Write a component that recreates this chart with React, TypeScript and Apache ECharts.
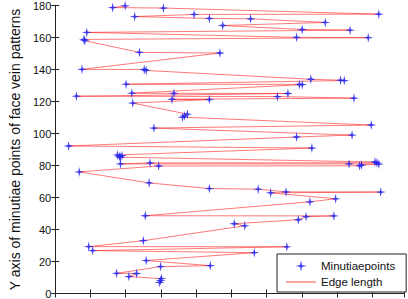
import React, { useEffect, useRef } from 'react';
import * as echarts from 'echarts';

// Minutiae points, listed in the order the edges connect them
const xValues = [
  39.7, 32.6, 61.4, 183.7, 78.8, 45.1, 87.5, 110.9, 153.3, 95.1,
  140.2, 167.4, 17.9, 137.0, 177.7, 16.3, 16.8, 47.8, 93.5, 15.2,
  50.5, 51.6, 145.1, 162.0, 164.1, 40.2, 138.6, 140.2, 43.5, 67.4,
  132.1, 12.0, 126.1, 169.6, 66.3, 87.5, 44.0, 75.0, 73.4, 72.3,
  179.4, 56.0, 168.5, 137.0, 7.6, 145.7, 35.3, 37.9, 36.4, 37.0,
  181.5, 182.6, 53.8, 37.0, 166.8, 183.7, 173.9, 172.8, 58.7, 13.6,
  53.3, 87.5, 115.2, 131.0, 184.8, 122.3, 159.2, 144.6, 51.1, 158.2,
  142.4, 138.0, 101.6, 107.6, 50.0, 19.0, 131.5, 21.2, 113.0, 51.6,
  88.0, 59.8, 34.8, 46.2, 41.8, 60.3, 59.8, 59.2,
];
const yValues = [
  179.8, 178.7, 178.4, 174.6, 174.4, 173.1, 171.9, 171.7, 169.4, 167.5,
  165.0, 164.6, 163.2, 160.1, 159.9, 158.8, 158.0, 150.7, 150.3, 140.1,
  140.0, 139.4, 133.9, 133.3, 133.1, 130.8, 130.7, 130.5, 125.2, 125.1,
  125.0, 123.3, 123.1, 122.1, 121.4, 121.2, 119.0, 112.1, 111.0, 110.2,
  105.3, 103.4, 99.0, 97.8, 92.2, 90.9, 86.6, 86.2, 85.6, 85.2,
  82.2, 81.7, 81.6, 81.0, 81.0, 80.9, 80.3, 79.8, 79.7, 76.0,
  69.1, 65.6, 65.2, 63.5, 63.4, 62.9, 59.2, 57.3, 48.6, 48.5,
  48.0, 46.1, 43.6, 42.3, 33.0, 29.3, 29.2, 26.8, 25.5, 20.6,
  17.4, 16.8, 12.6, 12.5, 10.6, 9.3, 8.1, 6.9,
];

const seriesNames = ['Minutiaepoints', 'Edge length'];
const yLabel = 'Y axis of minutiae points of face vein patterns';
const yMin = 0;
const yMax = 180;
const yStep = 20;
const xMin = 0;
const xMax = 198;
const xStep = 20;

const FONT = '"Liberation Sans", Arial, sans-serif';
const STAR = 'path://M5,0 L5.9,4.1 L10,5 L5.9,5.9 L5,10 L4.1,5.9 L0,5 L4.1,4.1 Z';
const LINE_ICON = 'path://M0,0 L30,0 L30,1 L0,1 Z';

export default function App() {
  const ref = useRef<HTMLDivElement>(null);

  useEffect(() => {
    if (!ref.current) return;
    const chart = echarts.init(ref.current, undefined, { renderer: 'svg' });
    const points = xValues.map((x, i) => [x, yValues[i]]);
    const axisLine = { show: true, lineStyle: { color: '#222', width: 1 } };
    const tick = { show: true, inside: true, length: 4, lineStyle: { color: '#222', width: 1 } };

    chart.setOption({
      animation: false,
      backgroundColor: '#fff',
      grid: { left: 39, right: 4, top: 5, bottom: 5, containLabel: false },
      xAxis: [
        {
          type: 'value', min: xMin, max: xMax, interval: xStep, position: 'bottom',
          axisLine, axisTick: tick, axisLabel: { show: false }, splitLine: { show: false },
        },
        {
          type: 'value', min: xMin, max: xMax, interval: xStep, position: 'top',
          axisLine, axisTick: tick, axisLabel: { show: false }, splitLine: { show: false },
        },
      ],
      yAxis: [
        {
          type: 'value', min: yMin, max: yMax, interval: yStep, position: 'left',
          axisLine, axisTick: tick, splitLine: { show: false },
          axisLabel: { color: '#111', fontSize: 11, fontFamily: FONT, margin: 4 },
          name: yLabel, nameLocation: 'middle', nameGap: 24,
          nameTextStyle: { color: '#111', fontSize: 14, fontFamily: FONT },
        },
        {
          type: 'value', min: yMin, max: yMax, interval: yStep, position: 'right',
          axisLine, axisTick: tick, axisLabel: { show: false }, splitLine: { show: false },
        },
      ],
      legend: {
        orient: 'vertical', left: 277, top: 254,
        padding: [6, 11, 4, 9], itemGap: 4, itemWidth: 30, itemHeight: 11,
        borderColor: '#222', borderWidth: 1, backgroundColor: '#fff',
        textStyle: { color: '#111', fontSize: 11.5, fontFamily: FONT },
        data: [
          { name: seriesNames[0], icon: STAR },
          { name: seriesNames[1], icon: LINE_ICON },
        ],
      },
      series: [
        {
          name: seriesNames[1], type: 'line', data: points, symbol: 'none',
          lineStyle: { color: '#ff2a2a', width: 0.9, opacity: 0.7 },
          itemStyle: { color: '#ff4a4a' }, z: 2,
        },
        {
          name: seriesNames[0], type: 'scatter', data: points, symbol: STAR, symbolSize: 10,
          itemStyle: { color: '#2222ee', opacity: 0.85 }, z: 3,
        },
      ],
    });
    return () => chart.dispose();
  }, []);

  return <div ref={ref} style={{ position: 'fixed', left: 0, top: 0, width: 408, height: 299 }} />;
}
